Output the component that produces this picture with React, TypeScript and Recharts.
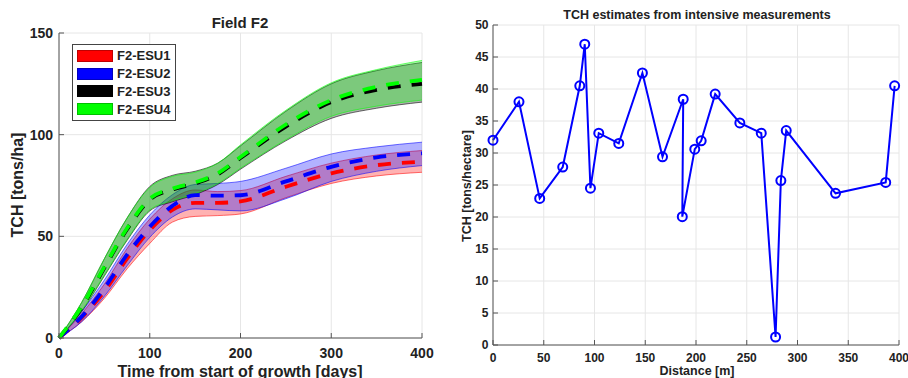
import React from 'react';
import {
  ComposedChart,
  LineChart,
  Area,
  Line,
  XAxis,
  YAxis,
  CartesianGrid,
} from 'recharts';

// growth curves, sampled in days from start of growth
const days = [0, 25, 50, 75, 100, 125, 150, 175, 200, 250, 300, 350, 400];

const esu1Mean = [0, 10, 23, 39, 53, 63, 66.5, 66.5, 67.2, 74.4, 81, 85, 86.7];
const esu1Low = [0, 8, 19.5, 34, 46.5, 57, 59.8, 60.2, 61, 69, 76, 79.7, 81.5];
const esu1High = [0, 12, 26.5, 44, 58.5, 68.5, 72.8, 72, 72.5, 79.5, 86, 90, 92.2];

const esu2Mean = [0, 10.5, 24.5, 41, 54.7, 65, 70.3, 70, 70.2, 77, 84.2, 88.8, 90.8];
const esu2Low = [0, 8, 20.5, 35.5, 49.5, 59.5, 63.5, 63, 62.5, 68.5, 77, 82, 84.8];
const esu2High = [0, 13, 28.5, 46, 60.5, 70.5, 75.5, 76, 77, 83.5, 90.5, 94, 96.3];

const esu3Mean = [0, 15, 34.5, 53.5, 68, 73, 76, 80.5, 88.5, 104, 116, 122, 125];
const esu3Low = [0, 13, 30.5, 48, 62.5, 67, 70.5, 75.5, 83, 97, 108, 113, 116];
const esu3High = [0, 17.5, 39, 59, 74.5, 80, 82, 86, 94.5, 111.5, 125, 131.5, 135.5];

const esu4Mean = [0, 15.5, 35, 54, 68.5, 73.5, 76.5, 81, 89, 105, 117, 123.5, 127];
const esu4Low = [0, 13.5, 31, 48.5, 63, 67.5, 71, 76, 83.5, 97.5, 109, 114, 117];
const esu4High = [0, 17.5, 39, 59, 74, 79.5, 81.5, 86, 95, 112, 125.5, 132, 136.5];

const fieldTicksX = [0, 100, 200, 300, 400];
const fieldTicksY = [0, 50, 100, 150];

// intensive measurements along the transect
const distance = [
  0, 25.6, 46, 68.7, 85.5, 90.4, 96, 104.2, 123.9, 147.2, 167, 187.4, 186.5, 198.8,
  205.1, 218.9, 243.2, 264.3, 278.4, 283.6, 288.9, 337.5, 386.9, 395.7,
];
const tch = [
  32.0, 38.0, 22.9, 27.8, 40.5, 47.0, 24.5, 33.1, 31.5, 42.5, 29.4, 38.4, 20.05, 30.6,
  31.9, 39.2, 34.7, 33.1, 1.25, 25.7, 33.5, 23.7, 25.4, 40.5,
];

const distTicks = [0, 50, 100, 150, 200, 250, 300, 350, 400];
const tchTicks = [0, 5, 10, 15, 20, 25, 30, 35, 40, 45, 50];

const FONT = '"Liberation Sans", Arial, Helvetica, sans-serif';
const TEXT = '#222';

const series = [
  { key: 'esu1', name: 'F2-ESU1', color: '#ff0000', mean: esu1Mean, low: esu1Low, high: esu1High },
  { key: 'esu2', name: 'F2-ESU2', color: '#0000ff', mean: esu2Mean, low: esu2Low, high: esu2High },
  { key: 'esu3', name: 'F2-ESU3', color: '#000000', mean: esu3Mean, low: esu3Low, high: esu3High },
  { key: 'esu4', name: 'F2-ESU4', color: '#00ff00', mean: esu4Mean, low: esu4Low, high: esu4High },
];

const fieldData = days.map((t, i) => {
  const row: Record<string, any> = { t };
  series.forEach((s) => {
    row[s.key + 'Band'] = [s.low[i], s.high[i]];
    row[s.key + 'Mean'] = s.mean[i];
  });
  return row;
});

const transectData = distance.map((d, i) => ({ d, tch: tch[i] }));

// boxed legend in the upper-left corner of the growth plot
function FieldLegend() {
  return (
    <div
      style={{
        position: 'absolute',
        left: 72,
        top: 44,
        width: 102,
        height: 73,
        border: '1px solid #444',
        background: '#fff',
        paddingTop: 2,
      }}
    >
      {series.map((s) => (
        <div key={s.key} style={{ display: 'flex', alignItems: 'center', height: 17.8 }}>
          <div
            style={{
              width: 36,
              height: 12,
              marginLeft: 4,
              marginRight: 4,
              background: s.color,
              boxSizing: 'border-box',
              border: '1px solid rgba(0,0,0,0.25)',
            }}
          />
          <span style={{ fontFamily: FONT, fontWeight: 'bold', fontSize: 13, color: TEXT }}>
            {s.name}
          </span>
        </div>
      ))}
    </div>
  );
}

const label = (x: number, y: number, size: number, rotate = false): React.CSSProperties => ({
  position: 'absolute',
  left: x,
  top: y,
  transform: `translate(-50%, -50%)${rotate ? ' rotate(-90deg)' : ''}`,
  fontFamily: FONT,
  fontWeight: 'bold',
  fontSize: size,
  color: TEXT,
  whiteSpace: 'nowrap',
  lineHeight: 1,
});

export default function App() {
  const tickL = { fill: TEXT, fontSize: 14, fontWeight: 'bold', fontFamily: FONT };
  const tickR = { fill: TEXT, fontSize: 12, fontWeight: 'bold', fontFamily: FONT };

  return (
    <div
      style={{
        position: 'absolute',
        left: 0,
        top: 0,
        width: 908,
        height: 378,
        background: '#fff',
        overflow: 'hidden',
      }}
    >
      {/* growth curves with uncertainty bands */}
      <div style={{ position: 'absolute', left: 0, top: 0 }}>
        <ComposedChart
          width={454}
          height={378}
          data={fieldData}
          margin={{ top: 33, right: 32, left: 0, bottom: 0 }}
        >
          <CartesianGrid stroke="#e6e6e6" strokeWidth={1} />
          <XAxis
            dataKey="t"
            type="number"
            domain={[0, 400]}
            ticks={fieldTicksX}
            height={40}
            tick={tickL}
            tickSize={-5}
            tickMargin={15}
            stroke="#555"
          />
          <YAxis
            type="number"
            domain={[0, 150]}
            ticks={fieldTicksY}
            width={59}
            tick={tickL}
            tickSize={-5}
            tickMargin={11}
            stroke="#555"
          />
          {series.map((s) => (
            <Area
              key={s.key + 'Band'}
              dataKey={s.key + 'Band'}
              type="monotone"
              fill={s.color}
              fillOpacity={0.3}
              stroke={s.color}
              strokeWidth={0.8}
              strokeOpacity={0.7}
              dot={false}
              activeDot={false}
              isAnimationActive={false}
            />
          ))}
          {series.map((s) => (
            <Line
              key={s.key + 'Mean'}
              dataKey={s.key + 'Mean'}
              type="monotone"
              stroke={s.color}
              strokeWidth={3.8}
              strokeDasharray="13 11"
              dot={false}
              activeDot={false}
              isAnimationActive={false}
            />
          ))}
        </ComposedChart>
        <FieldLegend />
      </div>

      {/* transect measurements */}
      <div style={{ position: 'absolute', left: 454, top: 0 }}>
        <LineChart
          width={454}
          height={378}
          data={transectData}
          margin={{ top: 25, right: 9, left: 0, bottom: 0 }}
        >
          <CartesianGrid stroke="#e6e6e6" strokeWidth={1} />
          <XAxis
            dataKey="d"
            type="number"
            domain={[0, 400]}
            ticks={distTicks}
            height={33}
            tick={tickR}
            tickSize={-5}
            tickMargin={13}
            stroke="#555"
          />
          <YAxis
            type="number"
            domain={[0, 50]}
            ticks={tchTicks}
            width={39}
            tick={tickR}
            tickSize={-5}
            tickMargin={9.5}
            stroke="#555"
          />
          <Line
            dataKey="tch"
            type="linear"
            stroke="#0000ff"
            strokeWidth={2}
            dot={{ r: 4.5, stroke: '#0000ff', strokeWidth: 2, fill: 'none' }}
            activeDot={false}
            isAnimationActive={false}
          />
        </LineChart>
      </div>

      <div style={label(240, 22, 15)}>Field F2</div>
      <div style={label(18, 185, 16, true)}>TCH [tons/ha]</div>
      <div style={label(240, 371.5, 16)}>Time from start of growth [days]</div>

      <div style={label(697, 15, 12.5)}>TCH estimates from intensive measurements</div>
      <div style={label(467, 186, 12.5, true)}>TCH [tons/hectare]</div>
      <div style={label(697, 371, 12.5)}>Distance [m]</div>
    </div>
  );
}
